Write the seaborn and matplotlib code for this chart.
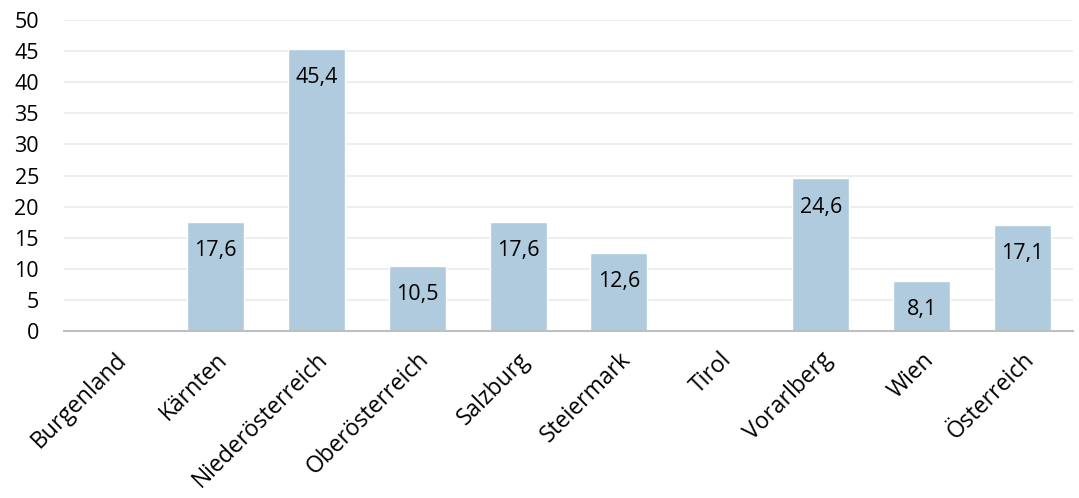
import matplotlib
matplotlib.use("Agg")
import matplotlib.pyplot as plt
import seaborn as sns
import pandas as pd

# Werte je Bundesland
regionen = ["Burgenland", "Kärnten", "Niederösterreich", "Oberösterreich", "Salzburg",
            "Steiermark", "Tirol", "Vorarlberg", "Wien", "Österreich"]
werte = [0, 17.6, 45.4, 10.5, 17.6, 12.6, 0, 24.6, 8.1, 17.1]
beschriftung = ["", "17,6", "45,4", "10,5", "17,6", "12,6", "", "24,6", "8,1", "17,1"]
yticks = [0, 5, 10, 15, 20, 25, 30, 35, 40, 45, 50]

df = pd.DataFrame({"region": regionen, "wert": werte})

sns.set_style("white")
plt.rcParams["font.family"] = ["Open Sans", "DejaVu Sans"]

fig = plt.figure(figsize=(10.79, 4.98), dpi=100)
ax = fig.add_axes([0.0593, 0.3353, 0.9351, 0.6245])

sns.barplot(data=df, x="region", y="wert", color="#AFCBDD", saturation=1,
            width=0.565, ax=ax, zorder=2)

for i, (v, t) in enumerate(zip(werte, beschriftung)):
    if t:
        ax.annotate(t, (i, v), xytext=(0, -21), textcoords="offset points",
                    ha="center", va="center", fontsize=15.5, color="#000000")

ax.set_ylim(0, 50)
ax.set_xlim(-0.5, len(regionen) - 0.5)
ax.set_yticks(yticks)
ax.set_yticklabels([str(y) for y in yticks], fontsize=15.5, color="#000000")
ax.yaxis.grid(True, color="#EBEBEB", linewidth=1.2, zorder=0)
ax.set_axisbelow(True)
ax.set_xticks(range(len(regionen)))
ax.set_xticklabels(regionen, rotation=45, ha="right", rotation_mode="anchor",
                   fontsize=16.5, color="#000000")
ax.tick_params(axis="x", length=0, pad=12)
ax.tick_params(axis="y", length=0, pad=18)
ax.set_xlabel("")
ax.set_ylabel("")
for s in ["top", "right", "left"]:
    ax.spines[s].set_visible(False)
ax.spines["bottom"].set_color("#BFBFBF")
ax.spines["bottom"].set_linewidth(1.5)

fig.savefig("out.png", dpi=100)
